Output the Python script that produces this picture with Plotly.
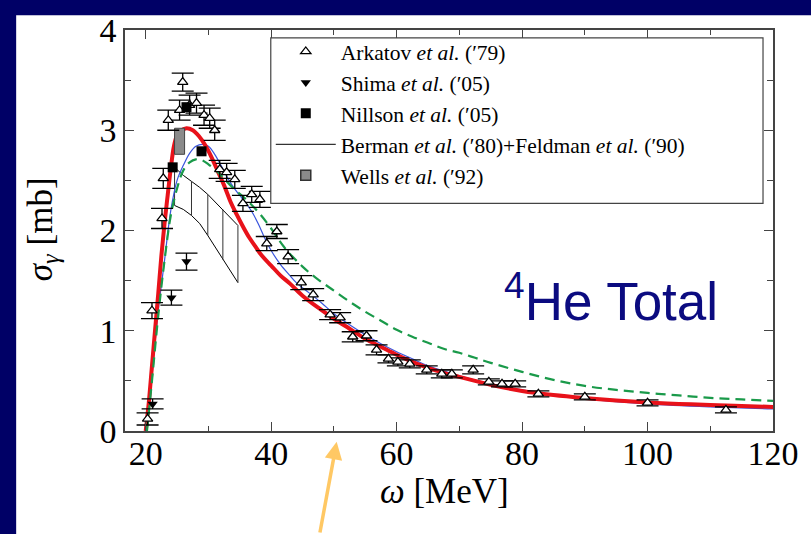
import plotly.graph_objects as go

# ---------------- data ----------------
ark_x = [20.3, 21.0, 22.6, 22.8, 23.6, 25.4, 25.9, 27.0, 28.1, 29.3, 30.2, 31.0, 31.8, 32.9,
         34.2, 35.5, 36.9, 38.2, 39.3, 40.9, 42.7, 44.8, 46.7, 49.4, 51.0, 53.0, 55.2, 56.8,
         58.7, 60.2, 62.1, 64.8, 67.2, 68.8, 72.2, 74.7, 76.8, 78.9, 82.6, 90.0, 100.0, 112.5]
ark_y = [0.12, 1.20, 2.12, 2.52, 3.10, 3.20, 3.48, 3.25, 3.27, 3.15, 3.12, 3.00, 2.61, 2.58,
         2.51, 2.27, 2.36, 2.31, 1.87, 1.99, 1.74, 1.48, 1.36, 1.16, 1.13, 0.94, 0.95, 0.81,
         0.72, 0.69, 0.67, 0.61, 0.57, 0.57, 0.61, 0.49, 0.47, 0.47, 0.37, 0.34, 0.28, 0.21]
ark_err = [0.06, 0.08, 0.10, 0.10, 0.10, 0.10, 0.09, 0.10, 0.10, 0.10, 0.10, 0.10, 0.09, 0.09,
           0.09, 0.08, 0.08, 0.08, 0.07, 0.07, 0.07, 0.07, 0.06, 0.05, 0.05, 0.05, 0.05, 0.05,
           0.04, 0.04, 0.04, 0.04, 0.04, 0.04, 0.04, 0.03, 0.03, 0.03, 0.03, 0.03, 0.03, 0.03]

shima_x = [21.1, 24.1, 26.5]
shima_y = [0.27, 1.33, 1.69]
shima_err = [0.05, 0.075, 0.085]

nill_x = [24.3, 26.5, 28.9]
nill_y = [2.63, 3.23, 2.79]

wells_x = [25.4]
wells_y = [2.89]
wells_err = [0.13]
wells_halfwidth = [0.8]

berman_x = [24.6, 26.0, 27.3, 28.6, 29.9, 31.1, 32.3, 33.5, 34.7]
berman_hi = [2.63, 2.55, 2.49, 2.43, 2.36, 2.28, 2.21, 2.13, 2.05]
berman_lo = [2.25, 2.21, 2.15, 2.07, 1.95, 1.83, 1.71, 1.60, 1.48]
berman_hatch_idx = [0, 2, 4, 6, 8]

red_x = [20.0, 20.5, 21.0, 21.5, 22.0, 22.5, 23.0, 23.5, 24.0, 24.5, 25.0, 25.5, 26.5, 27.5,
         28.5, 29.5, 30.5, 31.5, 32.5, 33.5, 34.5, 35.5, 36.5, 37.5, 38.5, 40.0, 41.5, 43.0,
         45.0, 47.5, 50.0, 52.5, 55.0, 57.5, 60.0, 62.5, 65.0, 67.5, 70.0, 72.5, 75.0, 80.0,
         85.0, 90.0, 95.0, 100.0, 105.0, 110.0, 115.0, 120.0]
red_y = [0.0, 0.29, 0.65, 1.01, 1.37, 1.75, 2.07, 2.35, 2.62, 2.84, 2.95, 2.99, 3.02, 3.00,
         2.94, 2.85, 2.73, 2.59, 2.45, 2.29, 2.16, 2.04, 1.93, 1.84, 1.75, 1.65, 1.55, 1.47,
         1.35, 1.23, 1.12, 1.02, 0.92, 0.84, 0.76, 0.69, 0.63, 0.58, 0.54, 0.50, 0.46, 0.40,
         0.36, 0.33, 0.305, 0.285, 0.27, 0.26, 0.25, 0.24]

blue_x = [20.2, 21.0, 22.0, 23.0, 24.0, 25.0, 26.0, 27.0, 28.0, 29.0, 30.0, 31.0, 32.0, 33.0,
          34.0, 35.0, 36.0, 37.0, 38.0, 39.0, 40.0, 41.5, 43.0, 44.0, 46.0, 48.0, 50.0, 52.5,
          55.0, 57.5, 60.0, 62.5, 65.0, 67.5, 70.0, 75.0, 80.0, 85.0, 90.0, 100.0, 110.0, 120.0]
blue_y = [0.0, 0.55, 1.2, 1.7, 2.2, 2.5, 2.65, 2.77, 2.84, 2.86, 2.84, 2.76, 2.65, 2.53,
          2.43, 2.35, 2.27, 2.18, 2.06, 1.92, 1.80, 1.66, 1.55, 1.48, 1.38, 1.28, 1.17, 1.06,
          0.96, 0.87, 0.79, 0.72, 0.65, 0.60, 0.55, 0.47, 0.41, 0.36, 0.32, 0.27, 0.24, 0.22]

green_x = [20.2, 21.0, 22.0, 23.0, 24.0, 25.0, 26.0, 27.0, 28.0, 29.0, 30.0, 31.0, 32.0, 34.0,
           36.0, 38.0, 40.0, 42.0, 45.0, 47.5, 50.0, 52.5, 55.0, 57.5, 60.0, 62.5, 65.0, 67.5,
           70.0, 72.5, 75.0, 80.0, 85.0, 90.0, 95.0, 100.0, 105.0, 110.0, 115.0, 120.0]
green_y = [0.0, 0.5, 1.15, 1.7, 2.15, 2.42, 2.60, 2.68, 2.71, 2.70, 2.66, 2.61, 2.55, 2.42,
           2.31, 2.18, 2.02, 1.84, 1.64, 1.51, 1.40, 1.29, 1.19, 1.10, 1.01, 0.94, 0.88, 0.82,
           0.78, 0.73, 0.68, 0.59, 0.51, 0.45, 0.41, 0.38, 0.355, 0.33, 0.315, 0.30]

x_ticks = [20, 40, 60, 80, 100, 120]
y_ticks = [0, 1, 2, 3, 4]

legend_names = ["Arkatov <i>et al.</i> (′79)", "Shima <i>et al.</i> (′05)", "Nillson <i>et al.</i> (′05)",
                "Berman <i>et al.</i> (′80)+Feldman <i>et al.</i> (′90)", "Wells <i>et al.</i> (′92)"]

# ---------------- figure ----------------
SERIF = "Liberation Serif, Times New Roman, serif"
fig = go.Figure()

# Berman + Feldman band
hatch_x, hatch_y = [], []
for i in berman_hatch_idx:
    hatch_x += [berman_x[i], berman_x[i], None]
    hatch_y += [berman_lo[i], berman_hi[i], None]
fig.add_trace(go.Scatter(x=berman_x, y=berman_hi, mode="lines", line=dict(color="black", width=1),
                         name=legend_names[3], legendgroup="g4", legendrank=4))
fig.add_trace(go.Scatter(x=berman_x, y=berman_lo, mode="lines", line=dict(color="black", width=1),
                         showlegend=False, hoverinfo="skip"))
fig.add_trace(go.Scatter(x=hatch_x, y=hatch_y, mode="lines", line=dict(color="#333333", width=1),
                         showlegend=False, hoverinfo="skip"))

# theory curves
fig.add_trace(go.Scatter(x=blue_x, y=blue_y, mode="lines", line=dict(color="#3a55dd", width=1.2),
                         showlegend=False, line_shape="spline"))
fig.add_trace(go.Scatter(x=red_x, y=red_y, mode="lines", line=dict(color="#e8121a", width=4),
                         showlegend=False, line_shape="spline"))
fig.add_trace(go.Scatter(x=green_x, y=green_y, mode="lines",
                         line=dict(color="#1a9a4a", width=2.2, dash="10px,6px"),
                         showlegend=False, line_shape="spline"))

# Wells box
wx, wy = [], []
for xc, yc, e, hw in zip(wells_x, wells_y, wells_err, wells_halfwidth):
    wx += [xc - hw, xc + hw, xc + hw, xc - hw, xc - hw]
    wy += [yc - e, yc - e, yc + e, yc + e, yc - e]
fig.add_trace(go.Scatter(x=wx, y=wy, mode="lines", fill="toself", fillcolor="#8a8a8a",
                         line=dict(color="#444444", width=1), showlegend=False, hoverinfo="skip"))
fig.add_trace(go.Scatter(x=[None], y=[None], mode="markers", name=legend_names[4],
                         marker=dict(symbol="square", size=10, color="#8a8a8a",
                                     line=dict(color="#333333", width=1.5)),
                         legendgroup="g5", legendrank=5))

# data sets
fig.add_trace(go.Scatter(x=ark_x, y=ark_y, mode="markers", name=legend_names[0],
                         marker=dict(symbol="triangle-up", size=9, color="white",
                                     line=dict(color="black", width=1.3)),
                         error_y=dict(type="data", array=ark_err, color="black", thickness=1.3, width=11),
                         legendgroup="g1", legendrank=1))
fig.add_trace(go.Scatter(x=shima_x, y=shima_y, mode="markers", name=legend_names[1],
                         marker=dict(symbol="triangle-down", size=9, color="black"),
                         error_y=dict(type="data", array=shima_err, color="black", thickness=1.3, width=11),
                         legendgroup="g2", legendrank=2))
fig.add_trace(go.Scatter(x=nill_x, y=nill_y, mode="markers", name=legend_names[2],
                         marker=dict(symbol="square", size=10, color="black"),
                         legendgroup="g3", legendrank=3))

axis_common = dict(
    showline=True, linecolor="#444444", linewidth=1.5, mirror="allticks",
    ticks="inside", ticklen=9, tickwidth=1.2, tickcolor="#444444",
    showgrid=False, zeroline=False,
    tickfont=dict(family=SERIF, size=34, color="black"),
)
fig.update_xaxes(range=[16.7, 120], tickvals=x_ticks, ticktext=[str(v) for v in x_ticks],
                 ticklabelstandoff=-9,
                 minor=dict(tickvals=[30, 50, 70, 90, 110], ticklen=5, ticks="inside",
                            tickcolor="#444444", tickwidth=1.2),
                 **axis_common)
fig.update_yaxes(range=[0, 4], tickvals=y_ticks, ticktext=[str(v) for v in y_ticks],
                 minor=dict(tickvals=[0.5, 1.5, 2.5, 3.5], ticklen=6, ticks="inside",
                            tickcolor="#444444", tickwidth=1.2),
                 **axis_common)

W, H = 811, 534
L, R, T, B = 125, 37, 24, 103
pw, ph = W - L - R, H - T - B

def px_x(p):
    return (p - L) / pw

def px_y(p):
    return (H - B - p) / ph

fig.update_layout(
    width=W, height=H,
    margin=dict(l=L, r=R, t=T, b=B, pad=0),
    paper_bgcolor="#000066", plot_bgcolor="white",
    showlegend=True,
    legend=dict(x=px_x(271), y=px_y(25), xanchor="left", yanchor="top",
                bgcolor="rgba(0,0,0,0)", borderwidth=0,
                font=dict(family=SERIF, size=21.5, color="black"),
                itemwidth=60, tracegroupgap=0, traceorder="normal"),
    shapes=[
        dict(type="rect", xref="paper", yref="paper",
             x0=px_x(16), x1=px_x(815), y0=px_y(540), y1=px_y(9),
             fillcolor="white", line=dict(width=0), layer="below"),
        dict(type="rect", xref="paper", yref="paper",
             x0=px_x(271), x1=px_x(764), y0=px_y(200), y1=px_y(32),
             fillcolor="white", line=dict(color="#444444", width=1.2), layer="above"),
    ],
    annotations=[
        dict(text="<sup>4</sup>He Total", xref="paper", yref="paper",
             x=px_x(503), y=px_y(296), xanchor="left", yanchor="middle", showarrow=False,
             font=dict(family="Liberation Sans, Arial, sans-serif", size=53, color="#0b0b80")),
        dict(text="<i>ω</i> [MeV]", xref="paper", yref="paper",
             x=px_x(445), y=px_y(492), xanchor="center", yanchor="middle", showarrow=False,
             font=dict(family=SERIF, size=35, color="black")),
        dict(text="<i>σ<sub>γ</sub></i> [mb]", xref="paper", yref="paper", textangle=-90,
             x=px_x(42), y=px_y(226), xanchor="center", yanchor="middle", showarrow=False,
             font=dict(family=SERIF, size=35, color="black")),
        dict(text="", xref="paper", yref="paper", x=px_x(337), y=px_y(442),
             showarrow=True, ax=-17, ay=96, arrowcolor="#ffc864", arrowwidth=3.5,
             arrowhead=2, arrowsize=1),
    ],
)

fig.write_html("out.html", config={"displayModeBar": False})
